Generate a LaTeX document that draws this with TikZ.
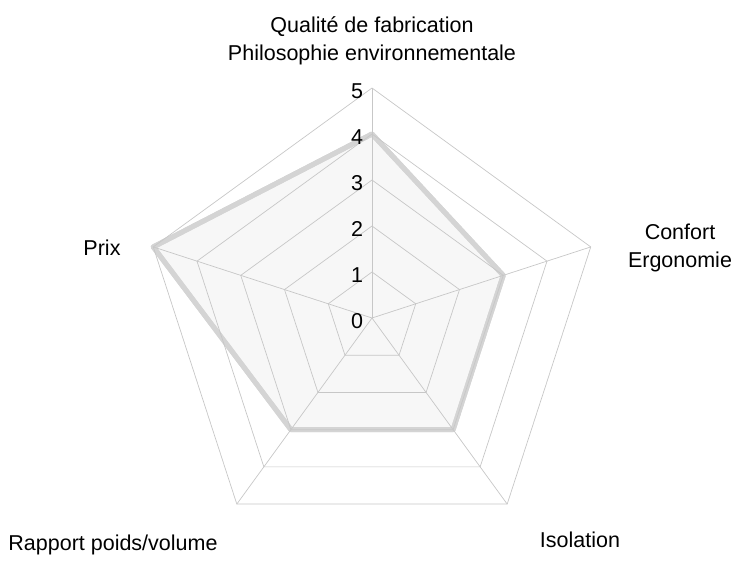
\documentclass[tikz,border=0pt]{standalone}
\usepackage{fontspec}
\setmainfont{Liberation Sans}
\begin{document}
\begin{tikzpicture}[x=1pt,y=-1pt,
  grid/.style={draw=black!22,line width=0.7pt},
  data/.style={draw=black!17,fill=black!3,line width=5pt,line join=round},
  lab/.style={font=\fontsize{21.5}{28}\selectfont,align=center,inner sep=0pt},
  tick/.style={font=\fontsize{21.5}{28}\selectfont,inner sep=0pt}]
\useasboundingbox (0,0) rectangle (750,571);
\def\cx{372}\def\cy{318}\def\u{46}
\coordinate (c) at (\cx,\cy);
\fill[data] ({\cx+4*\u*cos(90)},{\cy-4*\u*sin(90)}) -- ({\cx+3*\u*cos(18)},{\cy-3*\u*sin(18)}) -- ({\cx+3*\u*cos(-54)},{\cy-3*\u*sin(-54)}) -- ({\cx+3*\u*cos(-126)},{\cy-3*\u*sin(-126)}) -- ({\cx+5*\u*cos(162)},{\cy-5*\u*sin(162)}) -- cycle;
\draw[data,fill=none] ({\cx+4*\u*cos(90)},{\cy-4*\u*sin(90)}) -- ({\cx+3*\u*cos(18)},{\cy-3*\u*sin(18)}) -- ({\cx+3*\u*cos(-54)},{\cy-3*\u*sin(-54)}) -- ({\cx+3*\u*cos(-126)},{\cy-3*\u*sin(-126)}) -- ({\cx+5*\u*cos(162)},{\cy-5*\u*sin(162)}) -- cycle;
\foreach \r in {1,...,5}{
  \draw[grid] ({\cx+\r*\u*cos(90)},{\cy-\r*\u*sin(90)}) -- ({\cx+\r*\u*cos(18)},{\cy-\r*\u*sin(18)}) -- ({\cx+\r*\u*cos(-54)},{\cy-\r*\u*sin(-54)}) -- ({\cx+\r*\u*cos(-126)},{\cy-\r*\u*sin(-126)}) -- ({\cx+\r*\u*cos(162)},{\cy-\r*\u*sin(162)}) -- cycle;}
\foreach \a in {90,18,-54,-126,162}{
  \draw[grid] (c) -- ({\cx+5*\u*cos(\a)},{\cy-5*\u*sin(\a)});}
\foreach \r in {0,...,5}{
  \node[tick] (t\r) at (357,{\cy+3-\r*\u}) {\r};}
\node[lab] (q) at (372,41) {Qualité de fabrication\\Philosophie environnementale};
\node[lab] (cf) at (680,248) {Confort\\Ergonomie};
\node[lab] (px) at (102,248) {Prix};
\node[lab] (is) at (580,540) {Isolation};
\node[lab] (rp) at (113,545) {Rapport poids/volume};
\end{tikzpicture}
\end{document}
